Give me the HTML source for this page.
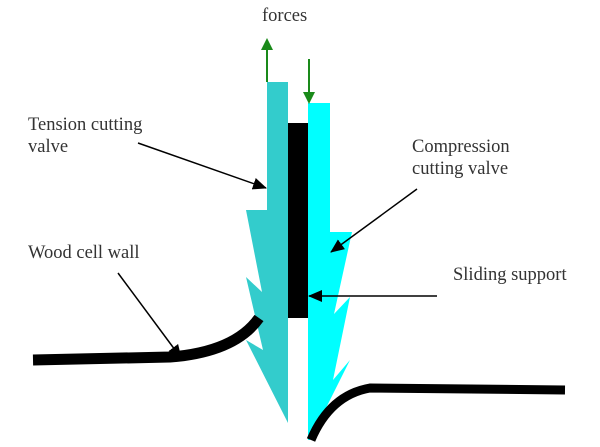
<!DOCTYPE html>
<html><head><style>
html,body{margin:0;padding:0;background:#fff;}
svg{display:block;}
text{font-family:"Liberation Serif",serif;font-size:18.5px;fill:#333;}
</style></head><body>
<svg width="600" height="447" viewBox="0 0 600 447" xmlns="http://www.w3.org/2000/svg">
<defs>
<marker id="ah" markerWidth="14" markerHeight="12" refX="13" refY="6" orient="auto" markerUnits="userSpaceOnUse">
<path d="M0,0 L14,6 L0,12 Z" fill="#000"/>
</marker>
<marker id="ag" markerWidth="12" markerHeight="12" refX="6" refY="6" orient="auto" markerUnits="userSpaceOnUse">
<path d="M0,0 L12,6 L0,12 Z" fill="#1a8a1a"/>
</marker>
</defs>
<!-- left valve -->
<polygon fill="#33cccc" points="267,82 288,82 288,423 246,340 263,350 246,277 262,292 246,210 267,210"/>
<!-- right valve -->
<polygon fill="#00ffff" points="308,103 330,103 330,232 352,232 334,314 350,297 333,380 350,360 310,440 308,440"/>
<!-- black bar -->
<rect x="288" y="123" width="20" height="195" fill="#000"/>
<!-- walls -->
<path d="M33,360 L170,357 Q235,352 259,318" fill="none" stroke="#000" stroke-width="11"/>
<path d="M311,440 Q330,395 370,388 L565,390" fill="none" stroke="#000" stroke-width="9"/>
<!-- green arrows -->
<line x1="267" y1="82" x2="267" y2="44" stroke="#1a8a1a" stroke-width="2" marker-end="url(#ag)"/>
<line x1="309" y1="59" x2="309" y2="98" stroke="#1a8a1a" stroke-width="2" marker-end="url(#ag)"/>
<!-- label arrows -->
<line x1="138" y1="143" x2="266" y2="188" stroke="#000" stroke-width="1.5" marker-end="url(#ah)"/>
<line x1="417" y1="189" x2="331" y2="252" stroke="#000" stroke-width="1.5" marker-end="url(#ah)"/>
<line x1="118" y1="273" x2="181" y2="358" stroke="#000" stroke-width="1.5" marker-end="url(#ah)"/>
<line x1="437" y1="296" x2="309" y2="296" stroke="#000" stroke-width="1.5" marker-end="url(#ah)"/>
<!-- text -->
<text x="262" y="21">forces</text>
<text x="28" y="130">Tension cutting</text>
<text x="28" y="152">valve</text>
<text x="412" y="152">Compression</text>
<text x="412" y="174">cutting valve</text>
<text x="28" y="258">Wood cell wall</text>
<text x="453" y="280">Sliding support</text>
</svg>
</body></html>
